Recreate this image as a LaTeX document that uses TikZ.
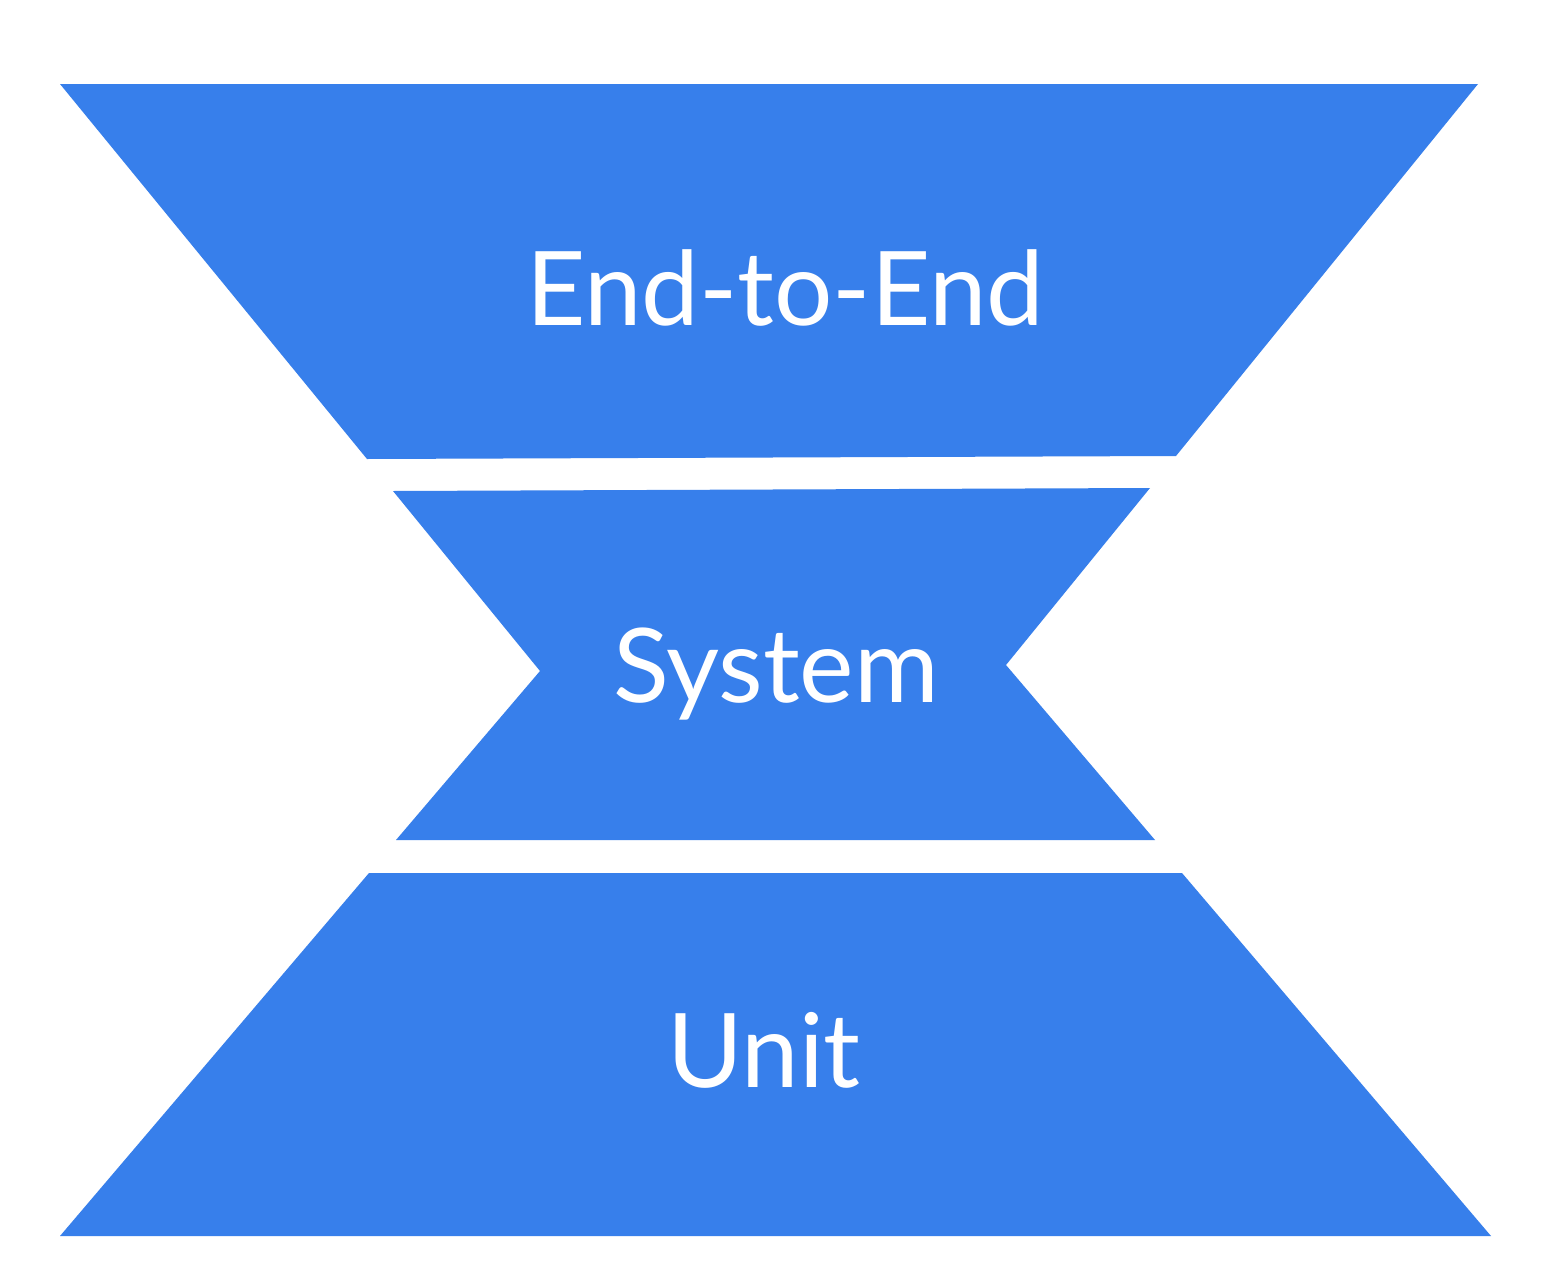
\documentclass[tikz,border=0pt]{standalone}
\usepackage{fontspec}
\setmainfont{Lato}
\definecolor{tblue}{RGB}{55,127,235}
\begin{document}
\begin{tikzpicture}[x=1pt,y=-1pt,
  band/.style={fill=tblue,draw=none},
  lbl/.style={text=white,font=\fontsize{103}{113}\selectfont,inner sep=0pt,anchor=center}]
\useasboundingbox (0,0) rectangle (1548,1282);
\fill[white] (0,0) rectangle (1548,1282);
\fill[band] (60,84) -- (1478,84) -- (1176,456) -- (367,459) -- cycle;
\fill[band] (393,491) -- (1150,488) -- (1006,665) -- (1155,840) -- (396,840) -- (540,671) -- cycle;
\fill[band] (369,873) -- (1182,873) -- (1491,1236) -- (60,1236) -- cycle;
\node[lbl] (e2e) at (785,288) {End-to-End};
\node[lbl] (sys) at (776,674) {System};
\node[lbl] (unit) at (764,1050) {Unit};
\end{tikzpicture}
\end{document}
